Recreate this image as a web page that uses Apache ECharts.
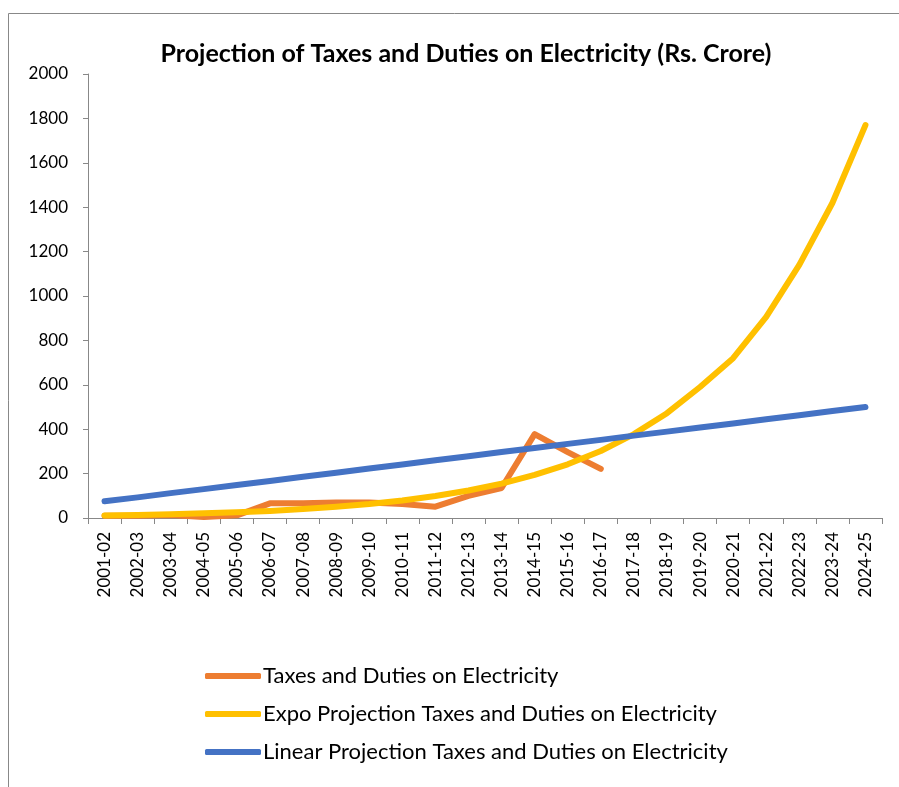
<!DOCTYPE html>
<html><head><meta charset="utf-8">
<script src="https://cdn.jsdelivr.net/npm/echarts@6/dist/echarts.min.js"></script>
<style>html,body{margin:0;padding:0;background:#fff}#c{width:899px;height:787px}</style>
</head><body><div id="c"></div>
<script>
const categories = ['2001-02','2002-03','2003-04','2004-05','2005-06','2006-07','2007-08','2008-09','2009-10','2010-11','2011-12','2012-13','2013-14','2014-15','2015-16','2016-17','2017-18','2018-19','2019-20','2020-21','2021-22','2022-23','2023-24','2024-25'];
const actual = [10, 10, 14, 5, 12, 66, 67, 70, 70, 63, 51, 100, 135, 378, 297, 221];
const expo = [11, 13, 17, 21, 26, 32, 41, 51, 63, 79, 99, 124, 155, 194, 242, 302, 378, 472, 590, 720, 906, 1140, 1419, 1770];
const linear = [75, 93, 112, 130, 149, 167, 186, 204, 223, 241, 260, 278, 297, 315, 334, 352, 371, 389, 408, 426, 445, 463, 482, 500];
const names = ['Taxes and Duties on Electricity','Expo Projection Taxes and Duties on Electricity','Linear Projection Taxes and Duties on Electricity'];
const colors = ['#ED7D31','#FFC000','#4472C4'];
const FONT = 'Lato';
const chart = echarts.init(document.getElementById('c'));
function ser(name, data, color){
  return {name, type:'line', data, symbol:'none', smooth:false,
    lineStyle:{color, width:6, cap:'round', join:'round'}, itemStyle:{color}};
}
chart.setOption({
  animation:false,
  textStyle:{fontFamily:FONT},
  title:{text:'Projection of Taxes and Duties on Electricity (Rs. Crore)', left:461, textAlign:'center', top:36,
    textStyle:{fontFamily:FONT, fontWeight:'bold', fontSize:25, color:'#000'}},
  graphic:[{type:'rect', shape:{x:8.5, y:13.5, width:1000, height:1000}, style:{fill:null, stroke:'#888', lineWidth:1}, silent:true, z:-1}],
  grid:{left:88, right:17, top:74, bottom:269, containLabel:false},
  legend:{orient:'vertical', left:200, top:660, itemWidth:56, itemHeight:6, itemGap:16,
    data:names.map(n=>({name:n, icon:'roundRect'})),
    textStyle:{fontFamily:FONT, fontSize:22, color:'#000', padding:[0,0,0,-3]}},
  xAxis:{type:'category', data:categories, boundaryGap:true,
    axisLine:{lineStyle:{color:'#888', width:1}},
    axisTick:{show:true, length:6, lineStyle:{color:'#888'}},
    axisLabel:{rotate:90, fontSize:17, color:'#000', fontFamily:FONT, margin:14}},
  yAxis:{type:'value', min:0, max:2000, interval:200,
    axisLine:{show:true, lineStyle:{color:'#888'}},
    axisTick:{show:true, length:5, lineStyle:{color:'#888'}},
    splitLine:{show:false},
    axisLabel:{fontSize:17, color:'#000', fontFamily:FONT, margin:20, formatter:v=>String(v)}},
  series:[ser(names[0], actual, colors[0]), ser(names[1], expo, colors[1]), ser(names[2], linear, colors[2])]
});
</script></body></html>
